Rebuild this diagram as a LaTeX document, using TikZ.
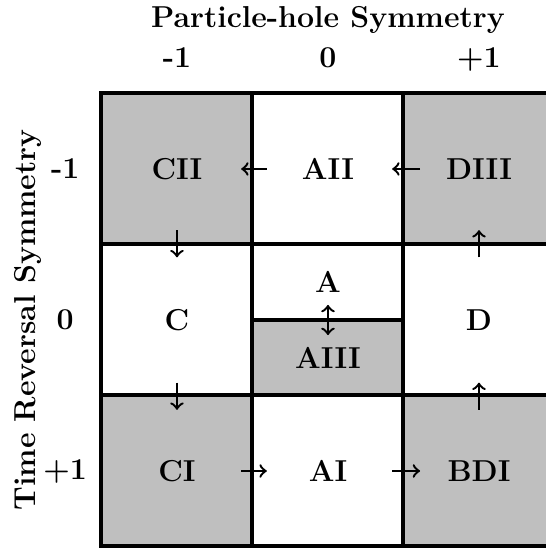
\documentclass[tikz,border=0pt]{standalone}
\usepackage{tikz}
\usetikzlibrary{calc,positioning}
\definecolor{cellgray}{gray}{0.75}
\tikzset{
  cell/.style={draw,line width=1.5pt,minimum width=2cm,minimum height=2cm,inner sep=0pt,outer sep=0pt,
    font=\fontsize{11.4}{13}\selectfont\bfseries},
  halfcell/.style={cell,minimum height=1cm},
  ar/.style={->,line width=0.9pt},
  lab/.style={font=\fontsize{11.4}{13}\selectfont\bfseries,inner sep=1pt}
}

\begin{document}
\begin{tikzpicture}
\useasboundingbox (-1.344,-0.02) rectangle (5.887,7.238);
% symmetry classes
\node[cell,fill=cellgray] (cii) at (1,5) {CII};
\node[cell] (aii) at (3,5) {AII};
\node[cell,fill=cellgray] (diii) at (5,5) {DIII};
\node[cell] (c) at (1,3) {C};
\node[halfcell] (a) at (3,3.5) {A};
\node[halfcell,fill=cellgray] (aiii) at (3,2.5) {AIII};
\node[cell] (d) at (5,3) {D};
\node[cell,fill=cellgray] (ci) at (1,1) {CI};
\node[cell] (ai) at (3,1) {AI};
\node[cell,fill=cellgray] (bdi) at (5,1) {BDI};
% arrows across the borders
\draw[ar] ($(aii.west)+(0.19,0)$) -- ($(cii.east)+(-0.15,0)$);
\draw[ar] ($(diii.west)+(0.22,0)$) -- ($(aii.east)+(-0.15,0)$);
\draw[ar] ($(ci.east)+(-0.15,0)$) -- ($(ai.west)+(0.19,0)$);
\draw[ar] ($(ai.east)+(-0.15,0)$) -- ($(bdi.west)+(0.22,0)$);
\draw[ar] ($(cii.south)+(0,0.19)$) -- ($(c.north)+(0,-0.17)$);
\draw[ar] ($(c.south)+(0,0.17)$) -- ($(ci.north)+(0,-0.19)$);
\draw[ar] ($(d.north)+(0,-0.17)$) -- ($(diii.south)+(0,0.19)$);
\draw[ar] ($(bdi.north)+(0,-0.19)$) -- ($(d.south)+(0,0.17)$);
\draw[ar,<->] ($(a.south)+(0,0.2)$) -- ($(aiii.north)+(0,-0.2)$);
% axis labels
\node[lab,anchor=base] (phs) at (3,6.88) {Particle-hole Symmetry};
\node[lab,anchor=base] (phm) at (1,6.34) {-1};
\node[lab,anchor=base] (phz) at (3,6.34) {0};
\node[lab,anchor=base] (php) at (5,6.34) {+1};
\node[lab,rotate=90] (trs) at (-0.98,3) {Time Reversal Symmetry};
\node[lab] (trm) at (-0.48,5) {-1};
\node[lab] (trz) at (-0.48,3) {0};
\node[lab] (trp) at (-0.48,1) {+1};
\end{tikzpicture}
\end{document}
